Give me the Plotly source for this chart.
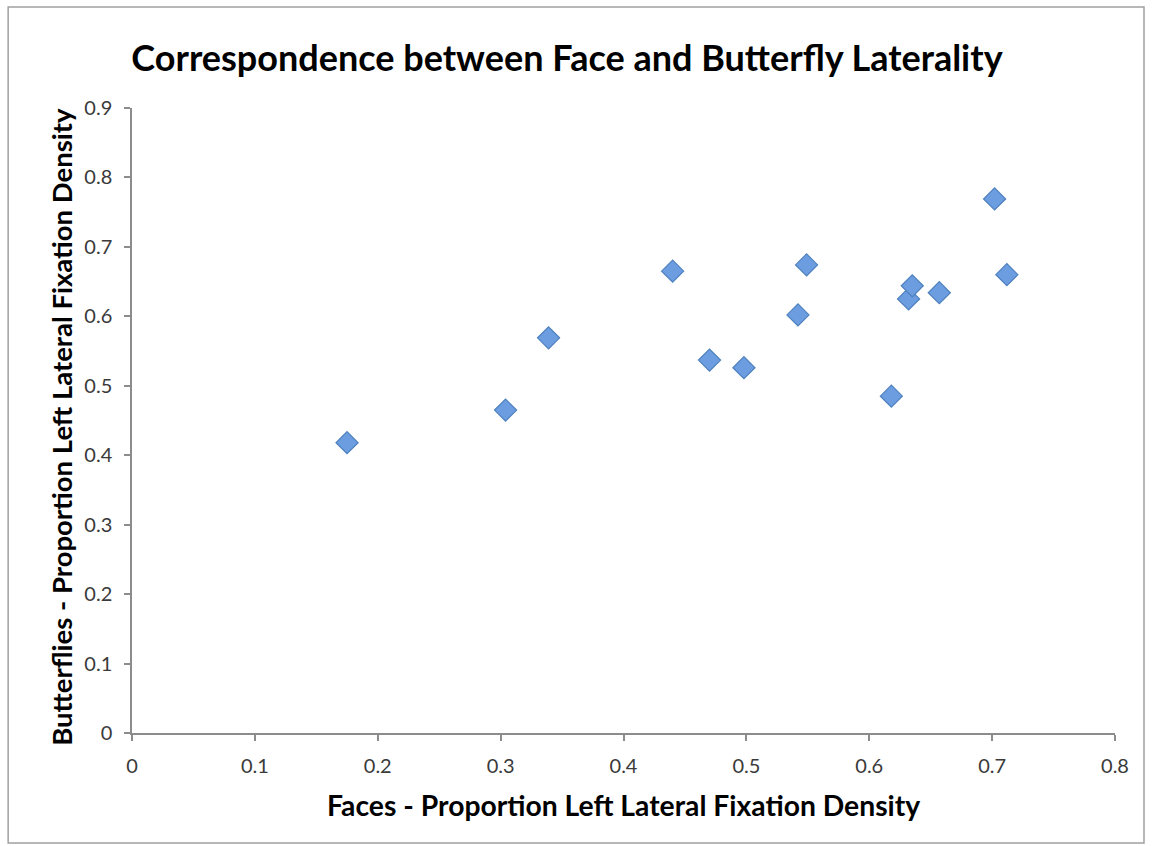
import plotly.graph_objects as go

# Proportion of left-lateral fixation density per participant
faces = [0.175, 0.304, 0.339, 0.440, 0.470, 0.498, 0.542, 0.549, 0.618, 0.632, 0.635, 0.657, 0.702, 0.712]
butterflies = [0.418, 0.465, 0.569, 0.665, 0.537, 0.526, 0.602, 0.674, 0.485, 0.625, 0.644, 0.634, 0.769, 0.660]

x_ticks = [0, 0.1, 0.2, 0.3, 0.4, 0.5, 0.6, 0.7, 0.8]
y_ticks = [0, 0.1, 0.2, 0.3, 0.4, 0.5, 0.6, 0.7, 0.8, 0.9]

FONT = "Lato"
AXIS_GREY = "#8c8c8c"

fig = go.Figure()
fig.add_trace(go.Scatter(
    x=faces, y=butterflies, mode="markers",
    marker=dict(symbol="diamond", size=17, color="#6b9de0",
                line=dict(color="#4f81bd", width=1.2)),
    showlegend=False,
))

axis_common = dict(
    showgrid=False, zeroline=False, showline=True, linecolor=AXIS_GREY, linewidth=1.5,
    ticks="outside", ticklen=6, tickcolor=AXIS_GREY, tickwidth=1.5,
    tickfont=dict(family=FONT, size=20, color="#3a3a3a"),
)

fig.update_xaxes(range=[0, 0.8], tickvals=x_ticks, ticktext=[f"{v:g}" for v in x_ticks],
                 ticklabelstandoff=8, **axis_common)
fig.update_yaxes(range=[0, 0.9], tickvals=y_ticks, ticktext=[f"{v:g}" for v in y_ticks],
                 ticklabelstandoff=8, **axis_common)

fig.update_layout(
    width=1152, height=846,
    margin=dict(l=132, r=37, t=108, b=113),
    paper_bgcolor="white", plot_bgcolor="white",
    title=dict(text="<b>Correspondence between Face and Butterfly Laterality</b>",
               font=dict(family=FONT, size=36, color="#000000"),
               x=567 / 1152, xanchor="center", y=1 - 58 / 846, yanchor="middle",
               xref="container", yref="container"),
    annotations=[
        dict(text="<b>Faces - Proportion Left Lateral Fixation Density</b>",
             x=0.5, y=-0.1152, xref="paper", yref="paper", showarrow=False,
             xanchor="center", yanchor="middle",
             font=dict(family=FONT, size=28.3, color="#000000")),
        dict(text="<b>Butterflies - Proportion Left Lateral Fixation Density</b>",
             x=-0.0712, y=0.49, xref="paper", yref="paper", showarrow=False,
             xanchor="center", yanchor="middle", textangle=-90,
             font=dict(family=FONT, size=27.5, color="#000000")),
    ],
    shapes=[
        dict(type="rect", xref="paper", yref="paper",
             x0=-0.126, x1=1.0295, y0=-0.176, y1=1.1616,
             line=dict(color="#a0a0a0", width=1.5), fillcolor="rgba(0,0,0,0)", layer="below"),
    ],
)

fig.write_html("out.html")
